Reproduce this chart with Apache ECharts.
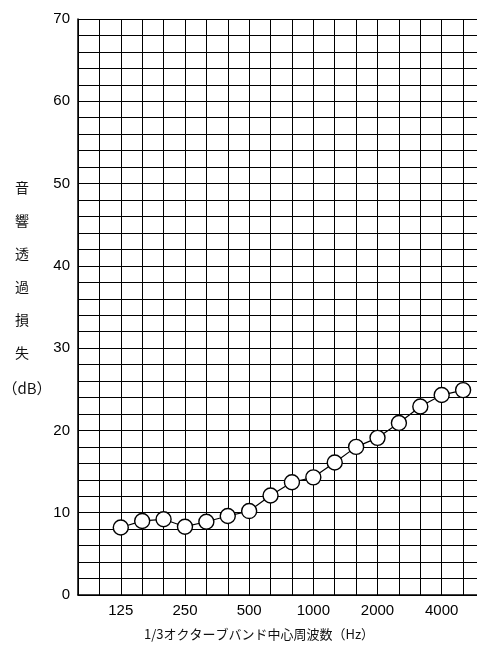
<!DOCTYPE html>
<html>
<head>
<meta charset="utf-8">
<script src="https://cdn.jsdelivr.net/npm/echarts@6/dist/echarts.min.js"></script>
<style>
  html, body { margin: 0; padding: 0; background: #fff; }
  #chart { width: 477px; height: 649px; }
</style>
</head>
<body>
<div id="chart"></div>
<script>
// 1/3オクターブバンド中心周波数
const freqs = ['125', '160', '200', '250', '315', '400', '500', '630', '800', '1000',
  '1250', '1600', '2000', '2500', '3150', '4000', '5000'];
// 音響透過損失 (dB)
const tlValues = [8.2, 9.0, 9.2, 8.3, 8.9, 9.6, 10.2, 12.1, 13.7, 14.3,
  16.1, 18.0, 19.1, 20.9, 22.9, 24.3, 24.9];
// 目盛ラベル
const xTickLabels = ['125', '250', '500', '1000', '2000', '4000'];
const yTickLabels = [0, 10, 20, 30, 40, 50, 60, 70];

const FONT = 'Liberation Sans';
const CJK = '"Noto Sans CJK JP", sans-serif';
const X_OFFSET = 2; // 125Hz は2本目のグリッド線

const chart = echarts.init(document.getElementById('chart'));

const option = {
  animation: false,
  backgroundColor: '#fff',
  grid: { left: 78, right: 0, top: 19, bottom: 54, containLabel: false },
  xAxis: {
    type: 'value',
    min: 0,
    max: 18.65,
    interval: 1,
    axisLine: { show: true, lineStyle: { color: '#000', width: 1.5 } },
    axisTick: { show: false },
    splitLine: { show: true, lineStyle: { color: '#000', width: 1 } },
    axisLabel: {
      margin: 8,
      fontSize: 15,
      fontFamily: FONT,
      color: '#000',
      showMaxLabel: false,
      formatter: function (v) {
        const f = freqs[Math.round(v) - X_OFFSET];
        return (Math.abs(v - Math.round(v)) < 1e-6 && xTickLabels.indexOf(f) >= 0) ? f : '';
      }
    }
  },
  yAxis: {
    type: 'value',
    min: 0,
    max: 70,
    interval: 2,
    axisLine: { show: true, lineStyle: { color: '#000', width: 1.5 } },
    axisTick: { show: false },
    splitLine: { show: true, lineStyle: { color: '#000', width: 1 } },
    axisLabel: {
      margin: 8,
      fontSize: 15,
      fontFamily: FONT,
      color: '#000',
      formatter: function (v) {
        return yTickLabels.indexOf(v) >= 0 ? String(v) : '';
      }
    }
  },
  graphic: [
    {
      type: 'text',
      x: 22,
      y: 171,
      style: {
        text: '音\n響\n透\n過\n損\n失',
        font: '14px ' + CJK,
        lineHeight: 33,
        fill: '#111',
        align: 'center',
        verticalAlign: 'top'
      }
    },
    {
      type: 'text',
      x: 27,
      y: 388,
      style: {
        text: '（dB）',
        font: '15px ' + CJK,
        fill: '#111',
        align: 'center',
        verticalAlign: 'middle'
      }
    },
    {
      type: 'text',
      x: 259,
      y: 634,
      style: {
        text: '1/3オクターブバンド中心周波数（Hz）',
        font: '13px ' + CJK,
        fill: '#111',
        align: 'center',
        verticalAlign: 'middle'
      }
    }
  ],
  series: [
    {
      type: 'line',
      data: tlValues.map((v, i) => [i + X_OFFSET, v]),
      symbol: 'circle',
      symbolSize: 15,
      lineStyle: { color: '#000', width: 1.2 },
      itemStyle: { color: '#fff', borderColor: '#000', borderWidth: 1.4 },
      z: 5
    }
  ]
};
chart.setOption(option);
</script>
</body>
</html>
